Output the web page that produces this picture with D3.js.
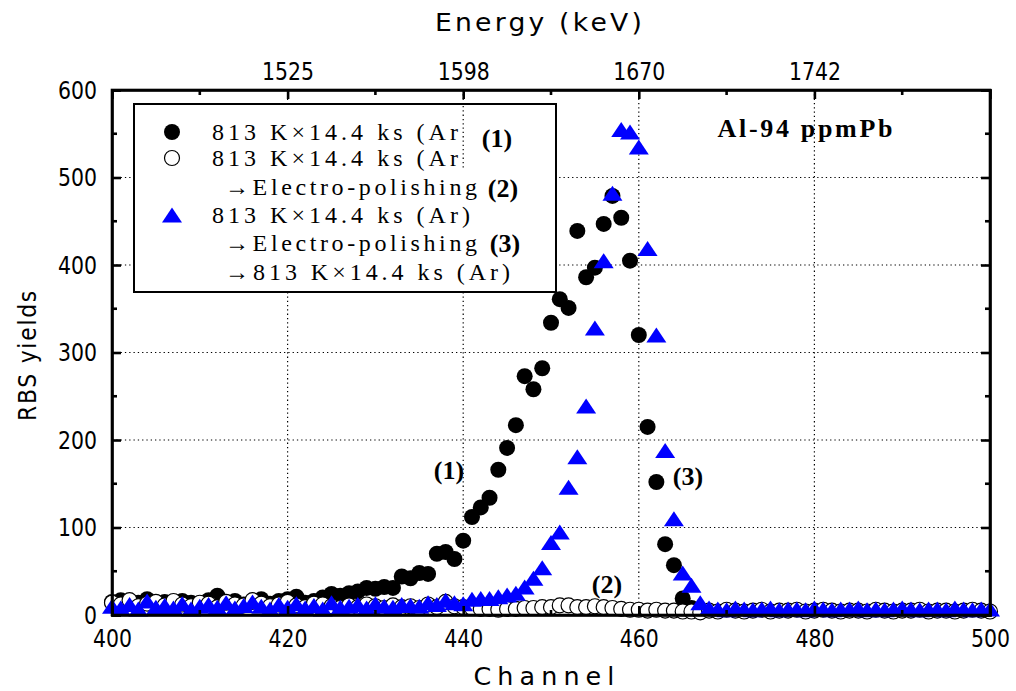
<!DOCTYPE html>
<html>
<head>
<meta charset="utf-8">
<script src="https://cdn.jsdelivr.net/npm/d3@7/dist/d3.min.js"></script>
<style>
  html, body { margin: 0; padding: 0; background: #fff; }
  svg { display: block; }
  .tick-label { font-family: "DejaVu Sans", "Liberation Sans", sans-serif; font-size: 25px; fill: #000; }
  .title { font-family: "DejaVu Sans", "Liberation Sans", sans-serif; font-size: 25px; fill: #000; }
  .legend-text { font-family: "Liberation Serif", "DejaVu Serif", serif; font-size: 24px; fill: #000; }
  .note { font-family: "Liberation Serif", "DejaVu Serif", serif; font-weight: bold; font-size: 26px; fill: #000; }
</style>
</head>
<body>
<svg id="chart" width="1016" height="691"></svg>
<script>
// ---- data -------------------------------------------------------------
// RBS yields per channel; each series starts at channel 400, one value per channel
const startChannel = 400;

// (1) 813 K x 14.4 ks (Ar)
const annealed = [
  15, 17, 16, 14, 18, 13, 15, 12, 16, 14,
  13, 17, 22, 14, 16, 12, 15, 18, 13, 16,
  18, 21, 14, 16, 20, 24, 22, 25, 27, 31,
  30, 32, 31, 44, 42, 48, 47, 70, 72, 64,
  85, 112, 123, 134, 166, 191, 217, 273, 258, 282,
  334, 361, 351, 439, 386, 397, 447, 479, 454, 405,
  320, 215, 152, 81, 57, 19, 8, 5
];

// (2) 813 K x 14.4 ks (Ar) -> electro-polishing
const polished = [
  14, 12, 17, 10, 13, 15, 11, 16, 12, 10,
  14, 13, 9, 15, 12, 11, 17, 13, 10, 12,
  15, 11, 9, 13, 12, 10, 8, 11, 9, 12,
  10, 8, 11, 9, 10, 8, 12, 9, 15, 10,
  9, 8, 7, 7, 6, 7, 7, 8, 8, 9,
  9, 11, 11, 9, 9, 10, 9, 8, 7, 6,
  6, 5, 6, 5, 5, 4, 4, 3, 5, 4,
  6, 5, 4, 5, 6, 4, 5, 5, 6, 4,
  5, 6, 5, 4, 5, 5, 4, 6, 5, 4,
  5, 5, 6, 4, 5, 5, 4, 5, 6, 5,
  4
];

// (3) 813 K x 14.4 ks (Ar) -> electro-polishing -> 813 K x 14.4 ks (Ar)
const reannealed = [
  10, 8, 12, 7, 16, 9, 11, 8, 13, 7,
  10, 12, 9, 14, 8, 11, 15, 10, 7, 12,
  9, 13, 8, 11, 7, 14, 9, 10, 12, 8,
  13, 10, 9, 12, 11, 10, 14, 12, 17, 14,
  13, 18, 19, 19, 21, 23, 25, 32, 42, 54,
  83, 95, 146, 181, 239, 328, 405, 482, 555, 552,
  535, 419, 320, 188, 110, 48, 34, 14, 8, 7,
  6, 8, 7, 6, 7, 8, 6, 7, 7, 6,
  8, 7, 6, 7, 7, 8, 6, 7, 6, 7,
  8, 7, 6, 7, 7, 6, 8, 7, 6, 7,
  7
];

// axis ticks
const channelTicks = [400, 420, 440, 460, 480, 500];
const channelMinorTicks = [410, 430, 450, 470, 490];
const yieldTicks = [0, 100, 200, 300, 400, 500, 600];
const yieldMinorTicks = [50, 150, 250, 350, 450, 550];
const energyTickChannels = [420, 440, 460, 480];
const energyTickLabels = ["1525", "1598", "1670", "1742"];
const energyMinorChannels = [410, 430, 450, 470, 490];

// legend entries
const legendLines = [
  ["813 K×14.4 ks (Ar)"],
  ["813 K×14.4 ks (Ar)", "→Electro-polishing"],
  ["813 K×14.4 ks (Ar)", "→Electro-polishing", "→813 K×14.4 ks (Ar)"]
];

// ---- layout -----------------------------------------------------------
const svg = d3.select("#chart");
const plotL = 112, plotR = 990, plotT = 90, plotB = 615;

const x = d3.scaleLinear().domain([400, 500]).range([plotL, plotR]);
const y = d3.scaleLinear().domain([0, 600]).range([plotB, plotT]);

const toPoints = vals => vals.map((v, i) => ({ ch: startChannel + i, v }));

// ---- grid -------------------------------------------------------------
const grid = svg.append("g").attr("stroke", "#000").attr("stroke-width", 1.2)
  .attr("stroke-dasharray", "1.3,3");
grid.selectAll("line.v").data(channelTicks.slice(1, -1)).join("line")
  .attr("x1", d => x(d)).attr("x2", d => x(d)).attr("y1", plotT).attr("y2", plotB);
grid.selectAll("line.h").data(yieldTicks.slice(1, -1)).join("line")
  .attr("x1", plotL).attr("x2", plotR).attr("y1", d => y(d)).attr("y2", d => y(d));

// ---- markers ----------------------------------------------------------
const triPath = "M0,-7.5L10,7.5L-10,7.5Z";
const plot = svg.append("g");

plot.append("g").selectAll("circle").data(toPoints(annealed)).join("circle")
  .attr("cx", d => x(d.ch)).attr("cy", d => y(d.v)).attr("r", 8)
  .attr("fill", "#000");

plot.append("g").selectAll("circle").data(toPoints(polished)).join("circle")
  .attr("cx", d => x(d.ch)).attr("cy", d => y(d.v)).attr("r", 7.5)
  .attr("fill", "#fff").attr("stroke", "#000").attr("stroke-width", 1.2);

plot.append("g").selectAll("path").data(toPoints(reannealed)).join("path")
  .attr("d", triPath)
  .attr("transform", d => `translate(${x(d.ch)},${y(d.v)})`)
  .attr("fill", "#0000ff");

// ---- legend -----------------------------------------------------------
const lg = svg.append("g");
lg.append("rect").attr("x", 134).attr("y", 104).attr("width", 422).attr("height", 188)
  .attr("fill", "#fff").attr("stroke", "#000").attr("stroke-width", 2);

// first two rows are cut short at the 440-channel grid line
svg.append("clipPath").attr("id", "rowclip").append("rect")
  .attr("x", 134).attr("y", 104).attr("width", 328).attr("height", 188);
lg.append("line").attr("x1", x(440)).attr("x2", x(440)).attr("y1", 106).attr("y2", 170)
  .attr("stroke", "#000").attr("stroke-width", 1.2).attr("stroke-dasharray", "1.3,3");

const rowY = [132, 158, 187, 215, 243, 272];
const legendRows = [
  { text: legendLines[0][0], x: 212, y: rowY[0], w: 258, clip: true },
  { text: legendLines[1][0], x: 212, y: rowY[1], w: 258, clip: true },
  { text: legendLines[1][1], x: 225, y: rowY[2], w: 252, clip: false },
  { text: legendLines[2][0], x: 212, y: rowY[3], w: 258, clip: false },
  { text: legendLines[2][1], x: 225, y: rowY[4], w: 252, clip: false },
  { text: legendLines[2][2], x: 225, y: rowY[5], w: 285, clip: false }
];
legendRows.forEach(r => {
  const t = lg.append("text").attr("class", "legend-text")
    .attr("x", r.x).attr("y", r.y).attr("dy", "0.35em")
    .attr("textLength", r.w).attr("lengthAdjust", "spacing").text(r.text);
  if (r.clip) t.attr("clip-path", "url(#rowclip)");
});

lg.append("circle").attr("cx", 172).attr("cy", rowY[0]).attr("r", 8).attr("fill", "#000");
lg.append("circle").attr("cx", 172).attr("cy", rowY[1]).attr("r", 7.5)
  .attr("fill", "#fff").attr("stroke", "#000").attr("stroke-width", 1.2);
lg.append("path").attr("d", triPath).attr("transform", `translate(172,${rowY[3]})`)
  .attr("fill", "#0000ff");

lg.append("text").attr("class", "note").attr("x", 497).attr("y", 138).attr("dy", "0.35em")
  .attr("text-anchor", "middle").text("(1)");
lg.append("text").attr("class", "note").attr("x", 503).attr("y", 188).attr("dy", "0.35em")
  .attr("text-anchor", "middle").text("(2)");
lg.append("text").attr("class", "note").attr("x", 505).attr("y", 243).attr("dy", "0.35em")
  .attr("text-anchor", "middle").text("(3)");

// ---- curve labels -----------------------------------------------------
const notes = svg.append("g");
notes.append("text").attr("class", "note").attr("x", 449).attr("y", 470).attr("dy", "0.35em")
  .attr("text-anchor", "middle").text("(1)");
notes.append("text").attr("class", "note").attr("x", 607).attr("y", 584).attr("dy", "0.35em")
  .attr("text-anchor", "middle").text("(2)");
notes.append("text").attr("class", "note").attr("x", 688).attr("y", 476).attr("dy", "0.35em")
  .attr("text-anchor", "middle").text("(3)");
notes.append("text").attr("class", "note").attr("x", 805).attr("y", 128).attr("dy", "0.35em")
  .attr("text-anchor", "middle").attr("font-size", "27px")
  .attr("textLength", 175).attr("lengthAdjust", "spacing").text("Al-94 ppmPb");

// ---- axes (ticks point inward) ----------------------------------------
const axisW = 2.6;
const axes = svg.append("g");

const bottomAxis = d3.axisBottom(x).tickValues(channelTicks).tickSize(-9).tickPadding(14);
const gB = axes.append("g").attr("transform", `translate(0,${plotB})`).call(bottomAxis);
gB.append("g").selectAll("line").data(channelMinorTicks).join("line")
  .attr("x1", d => x(d)).attr("x2", d => x(d)).attr("y1", 0).attr("y2", -5);

const topAxis = d3.axisTop(x).tickValues(energyTickChannels)
  .tickFormat((d, i) => energyTickLabels[i]).tickSize(-9).tickPadding(10);
const gT = axes.append("g").attr("transform", `translate(0,${plotT})`).call(topAxis);
gT.append("g").selectAll("line").data(energyMinorChannels).join("line")
  .attr("x1", d => x(d)).attr("x2", d => x(d)).attr("y1", 0).attr("y2", 5);

const leftAxis = d3.axisLeft(y).tickValues(yieldTicks).tickSize(-9).tickPadding(15);
const gL = axes.append("g").attr("transform", `translate(${plotL},0)`).call(leftAxis);
gL.append("g").selectAll("line").data(yieldMinorTicks).join("line")
  .attr("y1", d => y(d)).attr("y2", d => y(d)).attr("x1", 0).attr("x2", 5);

const rightAxis = d3.axisRight(y).tickValues(yieldTicks).tickSize(-9).tickFormat("");
const gR = axes.append("g").attr("transform", `translate(${plotR},0)`).call(rightAxis);
gR.append("g").selectAll("line").data(yieldMinorTicks).join("line")
  .attr("y1", d => y(d)).attr("y2", d => y(d)).attr("x1", 0).attr("x2", -5);

axes.selectAll(".domain").attr("stroke", "#000").attr("stroke-width", axisW);
axes.selectAll("line").attr("stroke", "#000").attr("stroke-width", axisW);
// narrow tick digits
axes.selectAll(".tick text").attr("class", "tick-label").attr("font-family", null).attr("font-size", null)
  .each(function () {
    const s = d3.select(this);
    const n = s.text().length;
    if (n) s.attr("textLength", n * 13).attr("lengthAdjust", "spacingAndGlyphs");
  });

// frame
axes.append("rect").attr("x", plotL).attr("y", plotT).attr("width", plotR - plotL).attr("height", plotB - plotT)
  .attr("fill", "none").attr("stroke", "#000").attr("stroke-width", axisW);

// ---- titles -----------------------------------------------------------
svg.append("text").attr("class", "title").attr("x", 547).attr("y", 676).attr("dy", "0.35em")
  .attr("text-anchor", "middle").attr("textLength", 147).attr("lengthAdjust", "spacingAndGlyphs")
  .attr("letter-spacing", "6px").text("Channel");
svg.append("text").attr("class", "title").attr("x", 540).attr("y", 22).attr("dy", "0.35em")
  .attr("text-anchor", "middle").attr("textLength", 210).attr("lengthAdjust", "spacingAndGlyphs")
  .attr("letter-spacing", "3px").text("Energy (keV)");
svg.append("text").attr("class", "title").attr("transform", "translate(27,355) rotate(-90)")
  .attr("dy", "0.35em").attr("text-anchor", "middle").attr("textLength", 132)
  .attr("lengthAdjust", "spacingAndGlyphs").attr("letter-spacing", "2px").text("RBS yields");
</script>
</body>
</html>
